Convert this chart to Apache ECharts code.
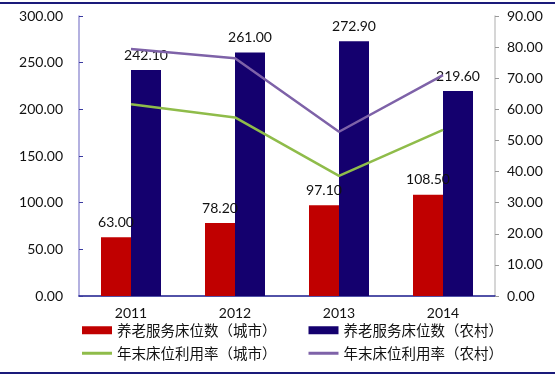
<!DOCTYPE html>
<html><head><meta charset="utf-8">
<script src="https://cdn.jsdelivr.net/npm/echarts@6/dist/echarts.min.js"></script>
<style>html,body{margin:0;padding:0;background:#fff}#c{width:555px;height:379px}</style>
</head><body><div id="c"></div>
<script>
const categories = ['2011', '2012', '2013', '2014'];
const bedsUrban = [63.00, 78.20, 97.10, 108.50];
const bedsRural = [242.10, 261.00, 272.90, 219.60];
const rateUrban = [61.6, 57.4, 38.6, 53.4];
const rateRural = [79.4, 76.4, 52.8, 71.0];
const leftTicks = { min: 0, max: 300, interval: 50 };
const rightTicks = { min: 0, max: 90, interval: 10 };
const names = ['养老服务床位数（城市）', '养老服务床位数（农村）', '年末床位利用率（城市）', '年末床位利用率（农村）'];

const numFont = 'Lato, "Noto Sans", sans-serif';
const cjkFont = '"Noto Sans CJK SC", sans-serif';
const fmt = v => Number(v).toFixed(2);

const chart = echarts.init(document.getElementById('c'), null, { renderer: 'canvas' });
chart.setOption({
  animation: false,
  backgroundColor: '#fff',
  grid: { left: 79, right: 60, top: 16, bottom: 83, containLabel: false },
  graphic: [
    { type: 'line', shape: { x1: 0, y1: 3, x2: 555, y2: 3 }, style: { stroke: '#1a1a7a', lineWidth: 2 } },
    { type: 'line', shape: { x1: 0, y1: 373, x2: 555, y2: 373 }, style: { stroke: '#1a1a7a', lineWidth: 2 } }
  ],
  legend: [
    {
      data: [names[0], names[1]], left: 77, top: 318, itemWidth: 30, itemHeight: 8, itemGap: 32,
      icon: 'rect', textStyle: { fontFamily: cjkFont, fontSize: 14.5, color: '#111' }
    },
    {
      data: [names[2], names[3]], left: 77, top: 341, itemWidth: 30, itemHeight: 3, itemGap: 32,
      icon: 'rect', textStyle: { fontFamily: cjkFont, fontSize: 14.5, color: '#111' }
    }
  ],
  xAxis: {
    type: 'category', data: categories, boundaryGap: true,
    axisLine: { lineStyle: { color: '#1a1a8c', width: 1.5 } },
    axisTick: { inside: true, length: 4, lineStyle: { color: '#1a1a8c' } },
    axisLabel: { fontFamily: numFont, fontSize: 14, color: '#111', margin: 10 }
  },
  yAxis: [
    {
      type: 'value', min: leftTicks.min, max: leftTicks.max, interval: leftTicks.interval,
      axisLine: { show: true, lineStyle: { color: '#9b97d6', width: 1.5 } },
      axisTick: { show: true, inside: true, length: 4, lineStyle: { color: '#3a3aa0' } },
      splitLine: { show: false },
      axisLabel: { formatter: fmt, fontFamily: numFont, fontSize: 14, color: '#111', margin: 16 }
    },
    {
      type: 'value', min: rightTicks.min, max: rightTicks.max, interval: rightTicks.interval,
      position: 'right',
      axisLine: { show: true, lineStyle: { color: '#c8c8c8', width: 1.5 } },
      axisTick: { show: true, inside: false, length: 4, lineStyle: { color: '#999' } },
      splitLine: { show: false },
      axisLabel: { formatter: fmt, fontFamily: numFont, fontSize: 14, color: '#111', margin: 12 }
    }
  ],
  series: [
    {
      name: names[0], type: 'bar', data: bedsUrban, barWidth: 30, barGap: '0%',
      itemStyle: { color: '#c00000' },
      label: { show: true, position: 'top', distance: 8, formatter: p => fmt(p.value), fontFamily: numFont, fontSize: 14, color: '#111' }
    },
    {
      name: names[1], type: 'bar', data: bedsRural, barWidth: 30, barGap: '0%',
      itemStyle: { color: '#14006e' },
      label: { show: true, position: 'top', distance: 8, formatter: p => fmt(p.value), fontFamily: numFont, fontSize: 14, color: '#111' }
    },
    {
      name: names[2], type: 'line', yAxisIndex: 1, data: rateUrban, showSymbol: false, symbol: 'none',
      lineStyle: { color: '#8fbc4a', width: 2.5 }, itemStyle: { color: '#8fbc4a' }, z: 5
    },
    {
      name: names[3], type: 'line', yAxisIndex: 1, data: rateRural, showSymbol: false, symbol: 'none',
      lineStyle: { color: '#7e62a8', width: 2.5 }, itemStyle: { color: '#7e62a8' }, z: 5
    }
  ]
});
</script>
</body></html>
